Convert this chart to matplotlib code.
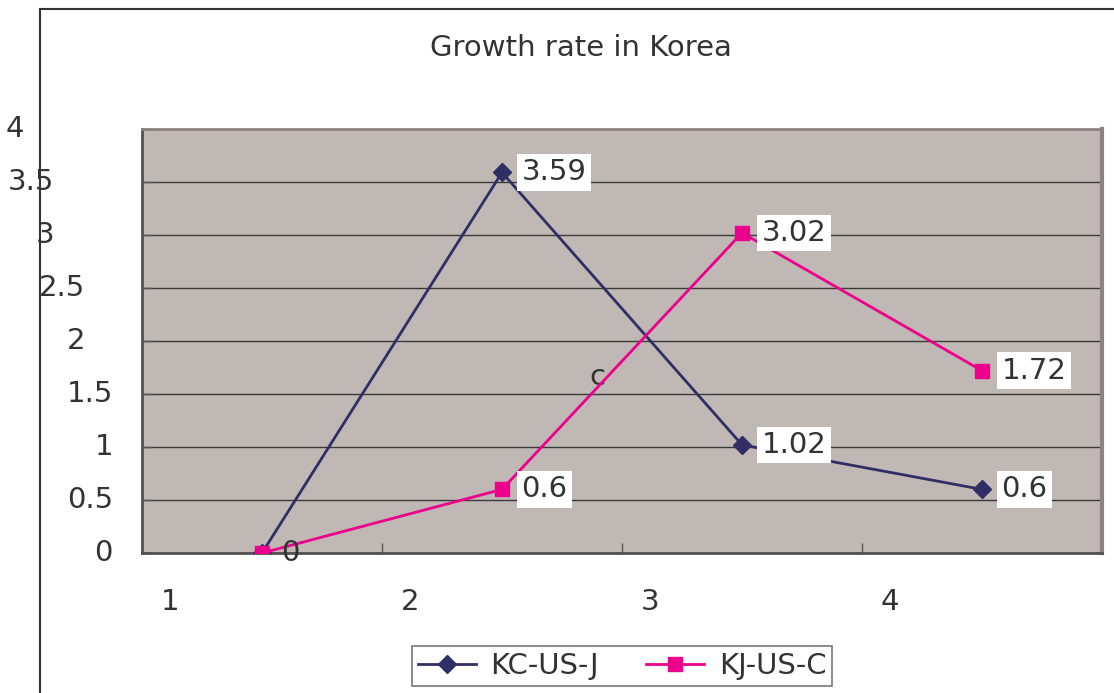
import matplotlib.pyplot as plt
from matplotlib.lines import Line2D
import matplotlib.transforms as mtransforms

# series values per category
categories = ["1", "2", "3", "4"]
kc_us_j = [0, 3.59, 1.02, 0.6]
kj_us_c = [0, 0.6, 3.02, 1.72]
y_ticks = [0, 0.5, 1, 1.5, 2, 2.5, 3, 3.5, 4]
y_tick_labels = ["0", "0.5", "1", "1.5", "2", "2.5", "3", "3.5", "4"]

W, H = 1114, 693
navy = "#2f2f66"
pink = "#ec008c"
txt = "#333333"
fs = 21

plt.rcParams['font.family'] = ['DejaVu Sans']

fig = plt.figure(figsize=(W / 100, H / 100), dpi=100)
ax = fig.add_axes([142 / W, 1 - 553 / H, (1102 - 142) / W, (553 - 129) / H])
ax.set_facecolor("#c0b8b5")

x = list(range(len(categories)))
ax.plot(x, kc_us_j, color=navy, lw=2, marker="D", ms=9, label="KC-US-J", zorder=3)
ax.plot(x, kj_us_c, color=pink, lw=2, marker="s", ms=10, label="KJ-US-C", zorder=4)

ax.set_xlim(-0.5, 3.5)
ax.set_ylim(0, 4)
ax.set_yticks(y_ticks)
ax.set_yticklabels([])
ax.set_xticks([0.5, 1.5, 2.5])
ax.set_xticklabels([])
ax.tick_params(axis="both", direction="in", length=7, width=1, color="#555555")
ax.yaxis.grid(True, color="#3a3a3a", lw=1)
ax.set_axisbelow(True)
for side in ["left", "bottom"]:
    ax.spines[side].set_color("#555050")
    ax.spines[side].set_linewidth(2)
ax.spines["top"].set_color("#8c8282")
ax.spines["top"].set_linewidth(2)
ax.spines["right"].set_color("#8c8282")
ax.spines["right"].set_linewidth(3)

# y labels drift leftwards near the top
right_edges = [113, 113, 113, 113, 85, 85, 54, 54, 24]
ytrans = mtransforms.blended_transform_factory(fig.transFigure, ax.transData)
for v, lab, r in zip(y_ticks, y_tick_labels, right_edges):
    ax.text(r / W, v, lab, transform=ytrans, ha="right", va="center",
            fontsize=fs, color=txt, clip_on=False)

# category labels sit left of their tick centres
for i, lab in enumerate(categories):
    fig.text((170 + 240 * i) / W, 1 - 602 / H, lab, ha="center", va="center",
             fontsize=fs, color=txt)

# value labels
box = dict(boxstyle="square,pad=0.15", fc="white", ec="none")
for i, v in enumerate(kc_us_j):
    if i == 0:
        continue
    ax.annotate(f"{v:g}", (i, v), xytext=(14, 0), textcoords="offset points",
                ha="left", va="center", fontsize=fs, color=txt, bbox=box, zorder=5)
for i, v in enumerate(kj_us_c):
    ax.annotate(f"{v:g}", (i, v), xytext=(14, 0), textcoords="offset points",
                ha="left", va="center", fontsize=fs, color=txt,
                bbox=None if i == 0 else box, zorder=5, annotation_clip=False)

ax.text(597 / W, 1 - 377 / H, "c", transform=fig.transFigure, ha="center",
        va="center", fontsize=fs, color=txt)

fig.text(581 / W, 1 - 48 / H, "Growth rate in Korea", ha="center", va="center",
         fontsize=fs, color=txt)

leg = fig.legend(loc="center", bbox_to_anchor=(622 / W, 1 - 666 / H), ncol=2,
                 fontsize=fs, frameon=True, fancybox=False, handlelength=2.0,
                 handletextpad=0.5, columnspacing=1.6, borderpad=0.2,
                 borderaxespad=0)
leg.get_frame().set_edgecolor("#555555")
leg.get_frame().set_linewidth(1.2)
for t in leg.get_texts():
    t.set_color(txt)

# chart frame lines
fig.add_artist(Line2D([40 / W, 40 / W], [0, 1 - 9 / H], color="#333333", lw=1.5,
                      transform=fig.transFigure))
fig.add_artist(Line2D([40 / W, 1], [1 - 9 / H, 1 - 9 / H], color="#333333", lw=1.5,
                      transform=fig.transFigure))

fig.savefig("out.png", dpi=100)
